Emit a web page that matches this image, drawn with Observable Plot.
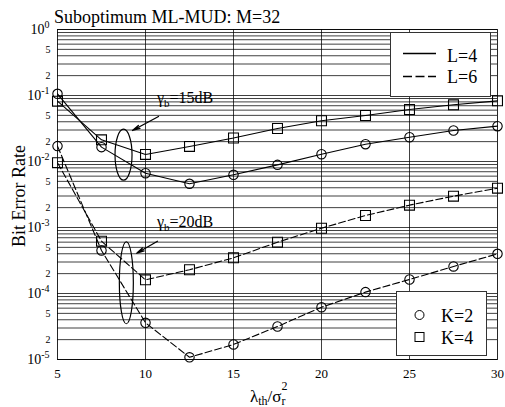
<!DOCTYPE html>
<html><head><meta charset="utf-8">
<script src="https://cdn.jsdelivr.net/npm/d3@7"></script>
<script src="https://cdn.jsdelivr.net/npm/@observablehq/plot@0.6"></script>
<style>body{margin:0;background:#fff} svg{display:block}</style>
</head><body><div id="chart"></div>
<script>
// ---- data ----
const thr = [5, 7.5, 10, 12.5, 15, 17.5, 20, 22.5, 25, 27.5, 30];
const berL4K2 = [0.106, 0.0165, 0.00665, 0.00459, 0.00629, 0.0089, 0.0129, 0.0183, 0.0233, 0.0295, 0.0343];
const berL4K4 = [0.082, 0.0213, 0.0128, 0.0169, 0.0227, 0.0316, 0.0414, 0.0498, 0.0614, 0.0723, 0.083];
const berL6K2 = [0.0171, 0.000449, 3.6e-5, 1.08e-5, 1.69e-5, 3.16e-5, 6.2e-5, 1.05e-4, 1.63e-4, 2.57e-4, 3.99e-4];
const berL6K4 = [0.0096, 6.2e-4, 1.61e-4, 2.29e-4, 3.47e-4, 5.99e-4, 9.75e-4, 1.52e-3, 2.18e-3, 2.98e-3, 3.94e-3];
const xTicks = [5, 10, 15, 20, 25, 30];
const xGrid = [10, 15, 20, 25];
const yDecades = [1e-5, 1e-4, 1e-3, 1e-2, 1e-1, 1];
const yMinorLabeled = [2e-5, 5e-5, 2e-4, 5e-4, 2e-3, 5e-3, 2e-2, 5e-2, 2e-1, 5e-1];
const yMinorLabels = ["2", "5", "2", "5", "2", "5", "2", "5", "2", "5"];
const yMinor = [2,3,4,5,6,7,8,9];
const titleText = "Suboptimum ML-MUD: M=32";
const yLabelText = "Bit Error Rate";
const legendL = ["L=4", "L=6"];
const legendK = ["K=2", "K=4"];
// annotations (data coordinates)
const ellipses = [{x: 8.78, y: 0.01245, rx: 8.5, ry: 25.5}, {x: 8.94, y: 1.43e-4, rx: 7, ry: 41}];
const arrows = [{x1: 10.74, y1: 0.0481, x2: 9.26, y2: 0.0295}, {x1: 10.68, y1: 6.2e-4, x2: 9.5, y2: 4.08e-4}];
const notes = [{x: 10.68, y: 0.0748, v: "15dB"}, {x: 10.68, y: 9.9e-4, v: "20dB"}];

const FONT = "'Liberation Serif', 'Times New Roman', Times, 'DejaVu Serif', serif";

// ---- build tables ----
const series = [
  {L: 4, K: 2, ber: berL4K2}, {L: 4, K: 4, ber: berL4K4},
  {L: 6, K: 2, ber: berL6K2}, {L: 6, K: 4, ber: berL6K4}
];
const rows = series.flatMap(s => thr.map((x, i) => ({x, ber: s.ber[i], L: s.L, K: s.K, key: `L${s.L}K${s.K}`})));
const yGrid = [];
for (let e = -5; e <= -1; e++) for (const m of yMinor) yGrid.push(m * Math.pow(10, e));
const minorLab = yMinorLabeled.map((v, i) => ({v, t: yMinorLabels[i]}));

const plot = Plot.plot({
  width: 505, height: 407,
  marginLeft: 57, marginRight: 8, marginTop: 29, marginBottom: 48,
  style: {fontFamily: FONT, fontSize: "13px", background: "white", color: "#000"},
  x: {domain: [5, 30], ticks: xTicks, tickSize: 0, tickPadding: 9, label: null, tickFormat: d => String(d)},
  y: {type: "log", domain: [1e-5, 1], ticks: yDecades, tickSize: 0, tickPadding: 8, label: null,
      tickFormat: d => "10^" + Math.round(Math.log10(d))},
  marks: [
    Plot.ruleY(yGrid.concat(yDecades), {stroke: "#000", strokeOpacity: 0.75, strokeWidth: 1}),
    Plot.ruleX(xGrid, {stroke: "#000", strokeOpacity: 0.75, strokeWidth: 1}),
    Plot.frame({stroke: "#000", strokeOpacity: 0.85}),
    Plot.text(minorLab, {y: "v", text: "t", frameAnchor: "left", dx: -7, textAnchor: "end", fontSize: 10}),
    Plot.line(rows.filter(d => d.L === 4), {x: "x", y: "ber", z: "key", stroke: "#000", strokeWidth: 1.1}),
    Plot.line(rows.filter(d => d.L === 6), {x: "x", y: "ber", z: "key", stroke: "#000", strokeWidth: 1.1, strokeDasharray: "7,3"}),
    Plot.dot(rows.filter(d => d.K === 2), {x: "x", y: "ber", symbol: "circle", r: 4.7, fill: "none", stroke: "#000", strokeWidth: 1.1}),
    Plot.dot(rows.filter(d => d.K === 4), {x: "x", y: "ber", symbol: "square", r: 5.6, fill: "none", stroke: "#000", strokeWidth: 1.1}),
    Plot.arrow(arrows, {x1: "x1", y1: "y1", x2: "x2", y2: "y2", stroke: "#000", strokeWidth: 1.3, headLength: 9, headAngle: 25})
  ]
});
document.getElementById("chart").appendChild(plot);

const svgEl = plot.tagName.toLowerCase() === "svg" ? plot : plot.querySelector("svg");
const svg = d3.select(svgEl);
const sx = plot.scale("x"), sy = plot.scale("y");

// y decade labels with superscripts
svg.selectAll('[aria-label^="y-axis"] text').each(function () {
  const t = d3.select(this);
  const s = this.textContent;
  if (s.includes("^")) {
    const e = s.split("^")[1];
    t.text("10").attr("font-size", 14);
    t.append("tspan").attr("dy", "-0.55em").attr("font-size", 10).text(e);
  }
});

const g = svg.append("g").style("font-family", FONT).attr("fill", "#000").attr("text-anchor", "start");

// ellipses
for (const e of ellipses) {
  g.append("ellipse").attr("cx", sx.apply(e.x)).attr("cy", sy.apply(e.y))
    .attr("rx", e.rx).attr("ry", e.ry).attr("fill", "none").attr("stroke", "#000").attr("stroke-width", 1.2);
}
// gamma notes
for (const n of notes) {
  const t = g.append("text").attr("x", sx.apply(n.x)).attr("y", sy.apply(n.y)).attr("font-size", 16);
  t.append("tspan").text("\u03b3");
  t.append("tspan").attr("font-size", 11).attr("dy", 4).text("b");
  t.append("tspan").attr("dy", -4).text("=" + n.v);
}

// title
g.append("text").attr("x", 54).attr("y", 22.5).attr("font-size", 18).text(titleText);
// y label
g.append("text").attr("transform", "translate(24.5,196) rotate(-90)").attr("text-anchor", "middle").attr("font-size", 18).text(yLabelText);
// x label
const xl = g.append("text").attr("x", 250).attr("y", 401.5).attr("font-size", 17);
xl.append("tspan").text("\u03bb");
xl.append("tspan").attr("font-size", 12).attr("dy", 3).text("th");
xl.append("tspan").attr("dy", -3).text("/\u03c3");
xl.append("tspan").attr("font-size", 12).attr("dy", 3).text("r");
xl.append("tspan").attr("font-size", 12).attr("dx", -4).attr("dy", -15).text("2");

// legend L
const lg1 = g.append("g");
lg1.append("rect").attr("x", 390.5).attr("y", 32.5).attr("width", 100).attr("height", 64).attr("fill", "#fff").attr("stroke", "#333");
lg1.append("line").attr("x1", 403).attr("x2", 436).attr("y1", 53.5).attr("y2", 53.5).attr("stroke", "#000").attr("stroke-width", 1.3);
lg1.append("line").attr("x1", 403).attr("x2", 436).attr("y1", 76.5).attr("y2", 76.5).attr("stroke", "#000").attr("stroke-width", 1.3).attr("stroke-dasharray", "9,3.5");
lg1.append("text").attr("x", 447).attr("y", 61.5).attr("font-size", 18).text(legendL[0]);
lg1.append("text").attr("x", 447).attr("y", 82.5).attr("font-size", 18).text(legendL[1]);

// legend K
const lg2 = g.append("g");
lg2.append("rect").attr("x", 396.5).attr("y", 291.5).attr("width", 90).attr("height", 64).attr("fill", "#fff").attr("stroke", "#333");
lg2.append("circle").attr("cx", 419.5).attr("cy", 315).attr("r", 4.5).attr("fill", "none").attr("stroke", "#000");
lg2.append("rect").attr("x", 415).attr("y", 332.5).attr("width", 9).attr("height", 9).attr("fill", "none").attr("stroke", "#000");
lg2.append("text").attr("x", 441).attr("y", 321.5).attr("font-size", 18).text(legendK[0]);
lg2.append("text").attr("x", 441).attr("y", 343.5).attr("font-size", 18).text(legendK[1]);
</script>
</body></html>
